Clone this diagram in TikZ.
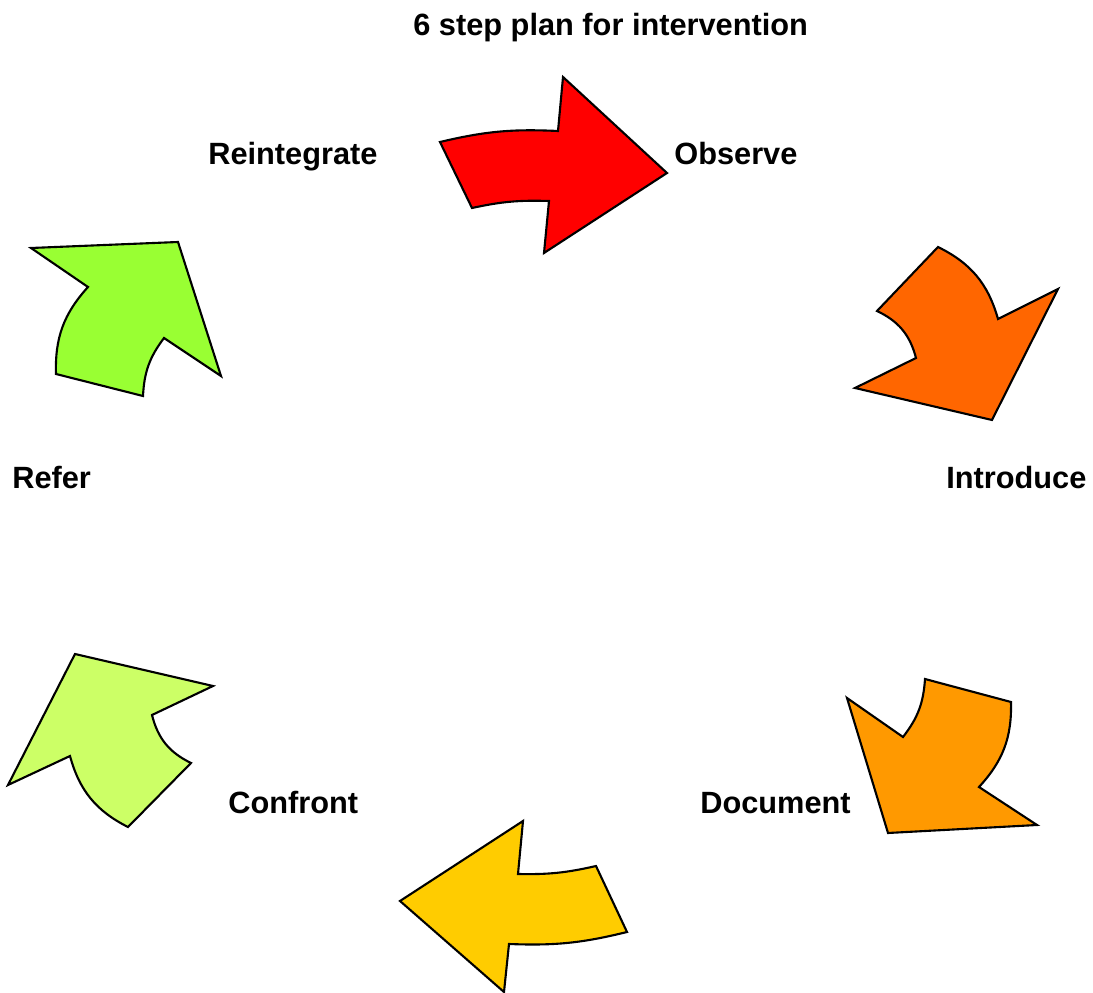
\documentclass[tikz,border=0pt]{standalone}
\usepackage{fontspec}
\setmainfont{Liberation Sans}
\usetikzlibrary{positioning}
\definecolor{stepred}{HTML}{FF0000}
\definecolor{steporange}{HTML}{FF6600}
\definecolor{stepamber}{HTML}{FF9900}
\definecolor{stepyellow}{HTML}{FFCC00}
\definecolor{steplime}{HTML}{CCFF66}
\definecolor{stepgreen}{HTML}{99FF33}
\tikzset{
  arrowshape/.style={draw=black, line width=1.2pt, line join=miter},
  label/.style={font=\fontsize{17.5}{21}\selectfont\bfseries, inner sep=0pt, anchor=base west},
}

\begin{document}
\begin{tikzpicture}[x=0.02cm, y=-0.02cm]
  \useasboundingbox (0,0) rectangle (1093,993);

  % --- Arrows ---
  \draw[arrowshape, fill=stepred] (440,142) -- (472,208) to[bend left=7] (549,201)
    -- (544,253) -- (667,173) -- (563,77) -- (558,131) to[bend right=8] (440,142) -- cycle;
  \draw[arrowshape, fill=steporange] (938,247) -- (877,311) to[bend left=25] (916,358)
    -- (855,388) -- (992,420) -- (1058,289) -- (998,319) to[bend right=24] (938,247) -- cycle;
  \draw[arrowshape, fill=stepamber] (925,679) -- (1011,702) to[bend left=22] (979,787)
    -- (1037,825) -- (888,833) -- (847,698) -- (903,737) to[bend right=17] (925,679) -- cycle;
  \draw[arrowshape, fill=stepyellow] (596,866) -- (627,932) to[bend left=8] (509,944)
    -- (504,992) -- (400,901) -- (523,821) -- (518,874) to[bend right=7] (596,866) -- cycle;
  \draw[arrowshape, fill=steplime] (75,654) -- (213,686) -- (152,715) to[bend right=25] (191,763)
    -- (128,827) to[bend left=24] (70,756) -- (8,785) -- cycle;
  \draw[arrowshape, fill=stepgreen] (31,248) -- (178,242) -- (221,376) -- (164,338)
    to[bend right=17] (143,396) -- (56,374) to[bend left=22] (88,287) -- cycle;

  % --- Labels ---
  \node[label] (title) at (413,36) {6 step plan for intervention};
  \node[label] (observe) at (674,165) {Observe};
  \node[label] (introduce) at (946,488) {Introduce};
  \node[label] (document) at (700,813) {Document};
  \node[label] (confront) at (228,813) {Confront};
  \node[label] (refer) at (12,488) {Refer};
  \node[label] (reintegrate) at (208,165) {Reintegrate};
\end{tikzpicture}
\end{document}
